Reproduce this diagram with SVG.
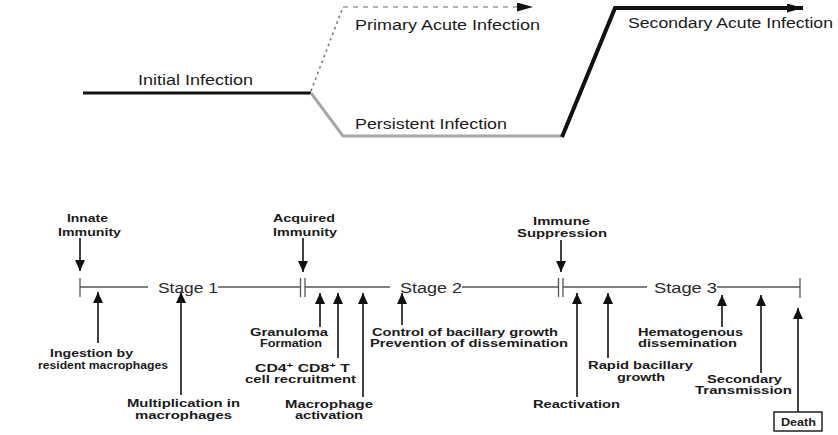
<svg xmlns="http://www.w3.org/2000/svg" width="838" height="435" viewBox="0 0 838 435">
<style>
.top{font-family:"Liberation Sans",Arial,sans-serif;font-size:14px;fill:#1a1a1a}
.stg{font-family:"Liberation Sans",Arial,sans-serif;font-size:14px;fill:#2a2a2a}
.lb{font-family:"Liberation Sans",Arial,sans-serif;font-size:11px;font-weight:bold;fill:#1a1a1a}
.tl{stroke:#555;stroke-width:1.3;fill:none}
.ar{stroke:#222;stroke-width:1.7;fill:none;marker-end:url(#ah)}
</style>
<defs>
<marker id="ah" viewBox="0 0 10 10" refX="10" refY="5" markerWidth="11" markerHeight="10" markerUnits="userSpaceOnUse" orient="auto" preserveAspectRatio="none"><path d="M0,0 L10,5 L0,10z" fill="#111"/></marker>
<marker id="ahTop" viewBox="0 0 10 10" refX="10" refY="5" markerWidth="16" markerHeight="9" markerUnits="userSpaceOnUse" orient="auto" preserveAspectRatio="none"><path d="M0,0 L10,5 L0,10z" fill="#111"/></marker>
</defs>
<rect width="838" height="435" fill="#fff"/>

<g id="connectors">
<line x1="83" y1="93" x2="311" y2="93" stroke="#111" stroke-width="3"/>
<line x1="311" y1="91" x2="343" y2="7" stroke="#777" stroke-width="1.6" stroke-dasharray="2.5,3.5"/>
<line x1="343" y1="7" x2="533" y2="7" stroke="#999" stroke-width="1.3" stroke-dasharray="5,5" marker-end="url(#ahTop)"/>
<polyline points="311,93 343,136 562,136" stroke="#a8a8a8" stroke-width="3" fill="none" stroke-linejoin="round"/>
<polyline points="562,137 615,8 803,8" stroke="#111" stroke-width="4" fill="none" stroke-linejoin="miter" marker-end="url(#ahTop)"/>

<line class="tl" x1="80" y1="287" x2="148" y2="287"/>
<line class="tl" x1="218" y1="287" x2="300" y2="287"/>
<line class="tl" x1="305" y1="287" x2="390" y2="287"/>
<line class="tl" x1="462" y1="287" x2="558" y2="287"/>
<line class="tl" x1="563" y1="287" x2="647" y2="287"/>
<line class="tl" x1="717" y1="287" x2="800" y2="287"/>
<line class="tl" x1="80" y1="278" x2="80" y2="297"/>
<line class="tl" x1="300.5" y1="278" x2="300.5" y2="297"/>
<line class="tl" x1="305" y1="278" x2="305" y2="297"/>
<line class="tl" x1="558.5" y1="278" x2="558.5" y2="297"/>
<line class="tl" x1="563" y1="278" x2="563" y2="297"/>
<line class="tl" x1="800" y1="278" x2="800" y2="298"/>

<line class="ar" x1="80" y1="238" x2="80" y2="271"/>
<line class="ar" x1="303" y1="238" x2="303" y2="272"/>
<line class="ar" x1="561" y1="240" x2="561" y2="272"/>

<line class="ar" x1="98" y1="343" x2="98" y2="292"/>
<line class="ar" x1="181" y1="395" x2="181" y2="292"/>
<line class="ar" x1="320" y1="327" x2="320" y2="293"/>
<line class="ar" x1="338" y1="358" x2="338" y2="293"/>
<line class="ar" x1="363" y1="397" x2="363" y2="293"/>
<line class="ar" x1="402" y1="325" x2="402" y2="293"/>
<line class="ar" x1="577" y1="397" x2="577" y2="293"/>
<line class="ar" x1="608" y1="358" x2="608" y2="293"/>
<line class="ar" x1="722" y1="327" x2="722" y2="295"/>
<line class="ar" x1="761" y1="373" x2="761" y2="295"/>
<line class="ar" x1="798" y1="412" x2="798" y2="308"/>
</g>

<g id="initial-infection"><text class="top" x="138" y="85" textLength="115" lengthAdjust="spacingAndGlyphs">Initial Infection</text></g>
<g id="primary-acute"><text class="top" x="355" y="30" textLength="185" lengthAdjust="spacingAndGlyphs">Primary Acute Infection</text></g>
<g id="persistent"><text class="top" x="355" y="129" textLength="152" lengthAdjust="spacingAndGlyphs">Persistent Infection</text></g>
<g id="secondary-acute"><text class="top" x="628" y="28" textLength="205" lengthAdjust="spacingAndGlyphs">Secondary Acute Infection</text></g>

<g id="stage1"><text class="stg" x="158" y="293" textLength="60" lengthAdjust="spacingAndGlyphs">Stage 1</text></g>
<g id="stage2"><text class="stg" x="400" y="293" textLength="62" lengthAdjust="spacingAndGlyphs">Stage 2</text></g>
<g id="stage3"><text class="stg" x="654" y="293" textLength="63" lengthAdjust="spacingAndGlyphs">Stage 3</text></g>

<g id="innate">
<text class="lb" x="67" y="222" textLength="41" lengthAdjust="spacingAndGlyphs">Innate</text>
<text class="lb" x="58" y="236" textLength="63" lengthAdjust="spacingAndGlyphs">Immunity</text>
</g>
<g id="acquired">
<text class="lb" x="273" y="222" textLength="62" lengthAdjust="spacingAndGlyphs">Acquired</text>
<text class="lb" x="273" y="236" textLength="64" lengthAdjust="spacingAndGlyphs">Immunity</text>
</g>
<g id="suppression">
<text class="lb" x="533" y="225" textLength="57" lengthAdjust="spacingAndGlyphs">Immune</text>
<text class="lb" x="517" y="237" textLength="90" lengthAdjust="spacingAndGlyphs">Suppression</text>
</g>

<g id="ingestion">
<text class="lb" x="50" y="357" textLength="83" lengthAdjust="spacingAndGlyphs">Ingestion by</text>
<text class="lb" x="38" y="369" textLength="130" lengthAdjust="spacingAndGlyphs">resident macrophages</text>
</g>
<g id="multiplication">
<text class="lb" x="127" y="407" textLength="113" lengthAdjust="spacingAndGlyphs">Multiplication in</text>
<text class="lb" x="135" y="419" textLength="97" lengthAdjust="spacingAndGlyphs">macrophages</text>
</g>
<g id="granuloma">
<text class="lb" x="250" y="336" textLength="78" lengthAdjust="spacingAndGlyphs">Granuloma</text>
<text class="lb" x="260" y="347" textLength="62" lengthAdjust="spacingAndGlyphs">Formation</text>
</g>
<g id="cd-recruitment">
<text class="lb" x="255" y="372" textLength="95" lengthAdjust="spacingAndGlyphs">CD4<tspan font-size="8" dy="-4">+</tspan><tspan dy="4"> CD8</tspan><tspan font-size="8" dy="-4">+</tspan><tspan dy="4"> T</tspan></text>
<text class="lb" x="245" y="383" textLength="111" lengthAdjust="spacingAndGlyphs">cell recruitment</text>
</g>
<g id="macrophage-activation">
<text class="lb" x="285" y="408" textLength="88" lengthAdjust="spacingAndGlyphs">Macrophage</text>
<text class="lb" x="295" y="419" textLength="68" lengthAdjust="spacingAndGlyphs">activation</text>
</g>
<g id="control">
<text class="lb" x="372" y="336" textLength="186" lengthAdjust="spacingAndGlyphs">Control of bacillary growth</text>
<text class="lb" x="370" y="347" textLength="198" lengthAdjust="spacingAndGlyphs">Prevention of dissemination</text>
</g>
<g id="reactivation">
<text class="lb" x="533" y="408" textLength="87" lengthAdjust="spacingAndGlyphs">Reactivation</text>
</g>
<g id="rapid-growth">
<text class="lb" x="588" y="369" textLength="105" lengthAdjust="spacingAndGlyphs">Rapid bacillary</text>
<text class="lb" x="617" y="381" textLength="48" lengthAdjust="spacingAndGlyphs">growth</text>
</g>
<g id="hematogenous">
<text class="lb" x="638" y="336" textLength="105" lengthAdjust="spacingAndGlyphs">Hematogenous</text>
<text class="lb" x="638" y="347" textLength="99" lengthAdjust="spacingAndGlyphs">dissemination</text>
</g>
<g id="secondary-transmission">
<text class="lb" x="707" y="383" textLength="75" lengthAdjust="spacingAndGlyphs">Secondary</text>
<text class="lb" x="695" y="394" textLength="97" lengthAdjust="spacingAndGlyphs">Transmission</text>
</g>
<g id="death">
<rect x="774" y="412" width="48" height="19" fill="#fff" stroke="#222" stroke-width="1.5"/>
<text class="lb" x="781" y="426" textLength="35" lengthAdjust="spacingAndGlyphs">Death</text>
</g>
</svg>
